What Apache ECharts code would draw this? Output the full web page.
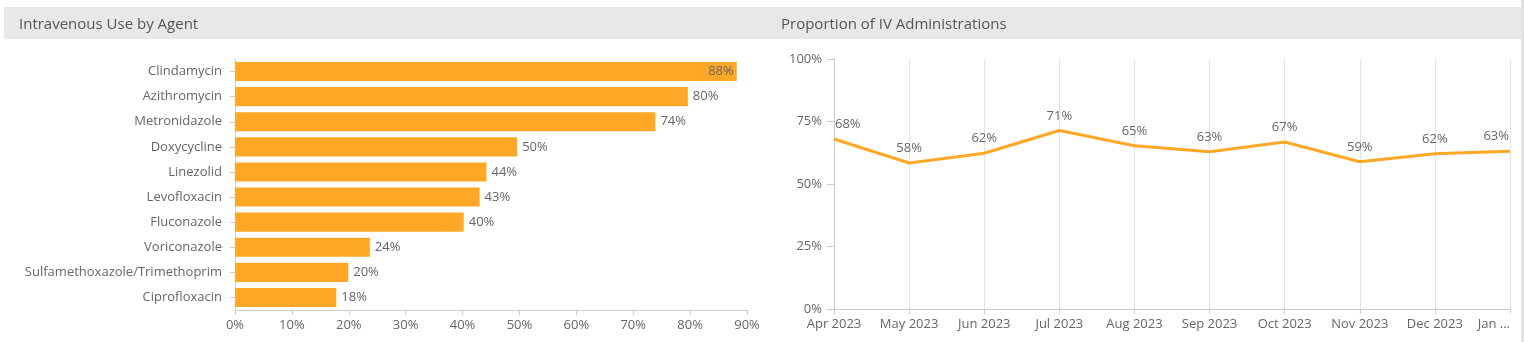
<!DOCTYPE html>
<html>
<head>
<meta charset="utf-8">
<script src="https://cdn.jsdelivr.net/npm/echarts@6/dist/echarts.min.js"></script>
<style>
html,body{margin:0;padding:0;background:#fff;}
#c{width:1524px;height:342px;}
</style>
</head>
<body>
<div id="c"></div>
<script>
const leftTitle = 'Intravenous Use by Agent';
const rightTitle = 'Proportion of IV Administrations';
const agents = ['Clindamycin','Azithromycin','Metronidazole','Doxycycline','Linezolid','Levofloxacin','Fluconazole','Voriconazole','Sulfamethoxazole/Trimethoprim','Ciprofloxacin'];
const agentIV = [88.2, 79.6, 73.9, 49.6, 44.2, 43.0, 40.2, 23.7, 19.9, 17.8];
const months = ['Apr 2023','May 2023','Jun 2023','Jul 2023','Aug 2023','Sep 2023','Oct 2023','Nov 2023','Dec 2023','Jan 2024'];
const monthlyIV = [68.0, 58.4, 62.3, 71.4, 65.3, 62.9, 66.8, 58.9, 62.1, 63.1];

const FONT = '"Open Sans", "Noto Sans", sans-serif';
const TXT = '#666';
const ORANGE = '#FFA726';
const AXIS = '#ccc';

const barData = agentIV.map((v, i) => i === 0
  ? { value: v, label: { position: 'insideRight', distance: 3 } }
  : v);
const lineData = monthlyIV.map((v, i) => {
  if (i === 0) return { value: v, label: { align: 'left', offset: [1, 0] } };
  if (i === monthlyIV.length - 1) return { value: v, label: { align: 'right', offset: [-1, 0] } };
  return v;
});

const chart = echarts.init(document.getElementById('c'), null, { renderer: 'canvas' });
chart.setOption({
  animation: false,
  textStyle: { fontFamily: FONT },
  graphic: [
    { type: 'rect', shape: { x: 4, y: 7, width: 1517, height: 32 }, style: { fill: '#e8e8e8' }, z: -10 },
    { type: 'rect', shape: { x: 1521, y: 0, width: 3, height: 342 }, style: { fill: '#e3e3e3' }, z: -10 }
  ],
  title: [
    { text: leftTitle, left: 14, top: 12, textStyle: { fontFamily: FONT, fontSize: 15, fontWeight: 'normal', color: '#555' } },
    { text: rightTitle, left: 776, top: 12, textStyle: { fontFamily: FONT, fontSize: 15, fontWeight: 'normal', color: '#555' } }
  ],
  grid: [
    { left: 235, right: 777, top: 59, bottom: 32 },
    { left: 834, right: 14, top: 59, bottom: 33 }
  ],
  xAxis: [
    {
      gridIndex: 0, type: 'value', min: 0, max: 90, interval: 10,
      axisLine: { show: true, lineStyle: { color: AXIS } },
      axisTick: { show: true, length: 5, lineStyle: { color: AXIS } },
      splitLine: { show: false },
      axisLabel: { color: TXT, fontSize: 13, margin: 9, formatter: '{value}%' }
    },
    {
      gridIndex: 1, type: 'category', data: months, boundaryGap: false,
      axisLine: { show: true, lineStyle: { color: AXIS } },
      axisTick: { show: true, length: 5, alignWithLabel: true, lineStyle: { color: AXIS } },
      splitLine: { show: true, lineStyle: { color: '#e4e4e4' } },
      axisLabel: { color: TXT, fontSize: 13, margin: 9, interval: 0, alignMaxLabel: 'right',
        formatter: (v, i) => i === months.length - 1 ? v.slice(0, 3) + ' ...' : v }
    }
  ],
  yAxis: [
    {
      gridIndex: 0, type: 'category', data: agents, inverse: true,
      axisLine: { show: true, lineStyle: { color: AXIS } },
      axisTick: { show: true, length: 5, alignWithLabel: true, lineStyle: { color: AXIS } },
      axisLabel: { color: TXT, fontSize: 13, margin: 13 }
    },
    {
      gridIndex: 1, type: 'value', min: 0, max: 100, interval: 25,
      axisLine: { show: true, lineStyle: { color: AXIS } },
      axisTick: { show: true, length: 7, lineStyle: { color: AXIS } },
      splitLine: { show: false },
      axisLabel: { color: TXT, fontSize: 13, margin: 12, formatter: '{value}%' }
    }
  ],
  series: [
    {
      type: 'bar', xAxisIndex: 0, yAxisIndex: 0, data: barData,
      barCategoryGap: '24%',
      itemStyle: { color: ORANGE },
      label: { show: true, position: 'right', distance: 5, color: TXT, fontSize: 13,
        formatter: p => Math.round(p.value) + '%' }
    },
    {
      type: 'line', xAxisIndex: 1, yAxisIndex: 1, data: lineData,
      showSymbol: true, symbol: 'circle', symbolSize: 0.1, showAllSymbol: true,
      lineStyle: { color: ORANGE, width: 3 },
      itemStyle: { color: ORANGE },
      label: { show: true, position: 'top', distance: 8, color: TXT, fontSize: 13,
        formatter: p => Math.round(p.value) + '%' }
    }
  ]
});
</script>
</body>
</html>
